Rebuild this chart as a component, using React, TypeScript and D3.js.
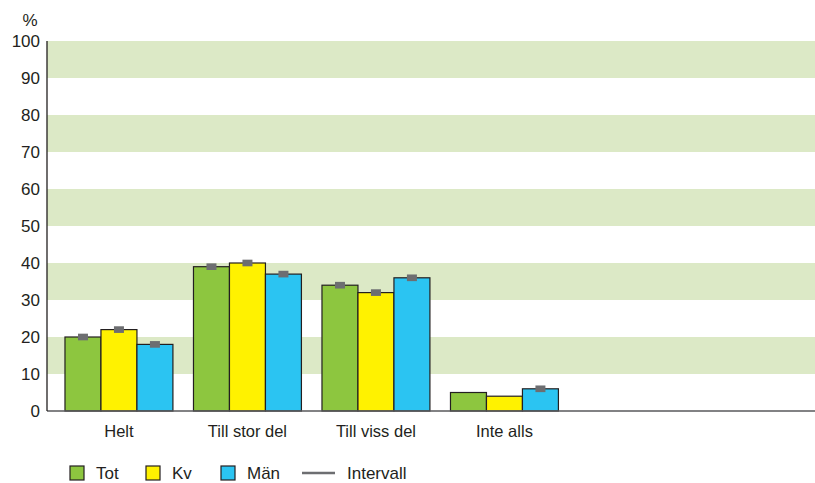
import { useMemo } from "react";
import * as d3 from "d3";

// datos
const categories = ["Helt", "Till stor del", "Till viss del", "Inte alls"];
const seriesNames = ["Tot", "Kv", "Män"];
const totValues = [20, 39, 34, 5];
const kvValues = [22, 40, 32, 4];
const manValues = [18, 37, 36, 6];
// intervall (låg/hög), null = inget intervall visas
const totLow = [19.1, 38.1, 33.1, null];
const totHigh = [20.9, 39.9, 34.9, null];
const kvLow = [21.1, 39.1, 31.1, null];
const kvHigh = [22.9, 40.9, 32.9, null];
const manLow = [17.1, 36.1, 35.1, 5.1];
const manHigh = [18.9, 37.9, 36.9, 6.9];
const yTicks = [0, 10, 20, 30, 40, 50, 60, 70, 80, 90, 100];

const colors = ["#8dc63f", "#fff200", "#2bc4f2"];
const bandColor = "#dce9c6";
const intervalColor = "#6d6e71";
const font = "'Liberation Sans', Arial, sans-serif";

export default function App() {
  const width = 815;
  const height = 483;
  const left = 47;
  const right = 815;
  const top = 41;
  const bottom = 411;

  const values = [totValues, kvValues, manValues];
  const lows = [totLow, kvLow, manLow];
  const highs = [totHigh, kvHigh, manHigh];

  const yScale = useMemo(
    () => d3.scaleLinear().domain([0, 100]).range([bottom, top]),
    [],
  );
  const xScale = useMemo(
    () =>
      d3
        .scaleBand<string>()
        .domain(categories)
        .range([54.7, 568.7])
        .paddingInner(0.16)
        .paddingOuter(0.08),
    [],
  );
  const xSub = d3
    .scaleBand<string>()
    .domain(seriesNames)
    .range([0, xScale.bandwidth()]);

  // franjas gröna: 10-20, 30-40, ...
  const bands = yTicks.filter((t) => t % 20 === 10);

  const legendItems = [
    { x: 70, label: "Tot", color: colors[0] },
    { x: 146, label: "Kv", color: colors[1] },
    { x: 221, label: "Män", color: colors[2] },
  ];

  return (
    <svg
      width={width}
      height={height}
      style={{ position: "absolute", left: 0, top: 0, background: "#fff" }}
      fontFamily={font}
    >
      {bands.map((b) => (
        <rect
          key={b}
          x={left}
          y={yScale(b + 10)}
          width={right - left}
          height={yScale(b) - yScale(b + 10)}
          fill={bandColor}
        />
      ))}

      {/* eje Y */}
      {yTicks.map((t) => (
        <text
          key={t}
          x={40}
          y={yScale(t) + 6}
          textAnchor="end"
          fontSize={17}
          fill="#231f20"
        >
          {t}
        </text>
      ))}
      <text x={30} y={26} textAnchor="middle" fontSize={17} fill="#231f20">
        %
      </text>

      {/* barras */}
      {categories.map((c, i) => (
        <g key={c} transform={`translate(${xScale(c)},0)`}>
          {seriesNames.map((s, j) => (
            <rect
              key={s}
              x={xSub(s)}
              y={yScale(values[j][i])}
              width={xSub.bandwidth()}
              height={bottom - yScale(values[j][i])}
              fill={colors[j]}
              stroke="#231f20"
              strokeWidth={1.2}
            />
          ))}
          {seriesNames.map((s, j) => {
            const lo = lows[j][i];
            const hi = highs[j][i];
            if (lo == null || hi == null) return null;
            const cx = (xSub(s) ?? 0) + xSub.bandwidth() / 2;
            return (
              <line
                key={s}
                x1={cx}
                x2={cx}
                y1={yScale(lo)}
                y2={yScale(hi)}
                stroke={intervalColor}
                strokeWidth={10}
              />
            );
          })}
          <text
            x={xScale.bandwidth() / 2}
            y={437}
            textAnchor="middle"
            fontSize={16.5}
            fill="#231f20"
          >
            {c}
          </text>
        </g>
      ))}

      {/* ejes */}
      <line x1={left} x2={right} y1={bottom} y2={bottom} stroke="#58595b" strokeWidth={1.3} />
      <line x1={left} x2={left} y1={top} y2={bottom} stroke="#231f20" strokeWidth={1.3} />

      {/* leyenda */}
      {legendItems.map((l) => (
        <g key={l.label}>
          <rect
            x={l.x}
            y={466}
            width={14}
            height={14}
            fill={l.color}
            stroke="#231f20"
            strokeWidth={1.2}
          />
          <text x={l.x + 26} y={479} fontSize={17} fill="#231f20">
            {l.label}
          </text>
        </g>
      ))}
      <line x1={302} x2={335} y1={473} y2={473} stroke={intervalColor} strokeWidth={2.5} />
      <text x={347} y={479} fontSize={17} fill="#231f20">
        Intervall
      </text>
    </svg>
  );
}
